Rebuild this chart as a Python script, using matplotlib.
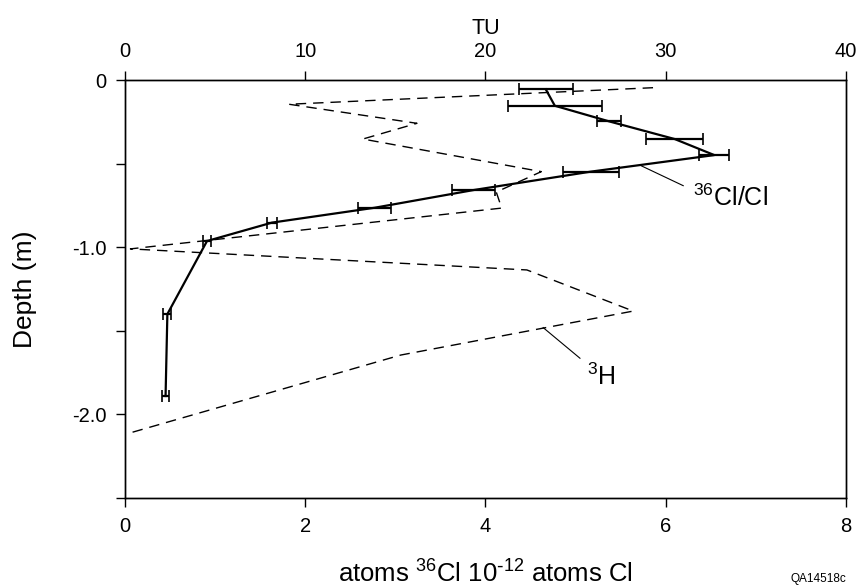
import numpy as np
import matplotlib
matplotlib.use('Agg')
import matplotlib.pyplot as plt

plt.rcParams['font.family'] = ['Liberation Sans', 'DejaVu Sans']
plt.rcParams['mathtext.default'] = 'regular'

# 36Cl/Cl 資料 (atoms 36Cl 10^-12 atoms Cl)
cl_depth = [-0.056, -0.154, -0.247, -0.353, -0.449, -0.548, -0.658, -0.764, -0.853, -0.963, -1.40, -1.89]
cl_ratio = [4.67, 4.77, 5.37, 6.10, 6.54, 5.17, 3.87, 2.77, 1.63, 0.91, 0.47, 0.45]
cl_err = [0.30, 0.52, 0.13, 0.32, 0.165, 0.31, 0.24, 0.18, 0.055, 0.04, 0.045, 0.04]

# 3H 資料 (TU)
h3_depth = [-0.046, -0.145, -0.259, -0.353, -0.548, -0.67, -0.766, -1.01, -1.136, -1.382, -1.645, -2.11]
h3_tu = [29.3, 9.1, 16.2, 13.2, 23.1, 20.6, 20.9, 0.3, 22.3, 28.2, 15.3, 0.3]

bottom_ticks = [0, 2, 4, 6, 8]
top_ticks = [0, 10, 20, 30, 40]
depth_ticks = [0, -0.5, -1.0, -1.5, -2.0, -2.5]
depth_labels = ['0', '', '-1.0', '', '-2.0', '']

fig = plt.figure(figsize=(8.64, 5.87), dpi=100)
ax = fig.add_axes([0.1447, 0.1516, 0.979 - 0.1447, 0.8637 - 0.1516])
ax2 = ax.twiny()

# 3H 虛線
ax2.plot(h3_tu, h3_depth, color='black', lw=1.0, ls=(0, (7.5, 5)))

# 36Cl/Cl 實線 + 誤差棒
ax.errorbar(cl_ratio, cl_depth, xerr=cl_err, color='black', lw=1.6,
            elinewidth=1.6, capsize=4, capthick=1.2, zorder=5)

ax.set_xlim(0, 8)
ax.set_ylim(-2.5, 0)
ax2.set_xlim(0, 40)

ax.set_xticks(bottom_ticks)
ax.set_xticklabels([str(t) for t in bottom_ticks])
ax.set_yticks(depth_ticks)
ax.set_yticklabels(depth_labels)
ax2.set_xticks(top_ticks)
ax2.set_xticklabels([str(t) for t in top_ticks])

for a in (ax, ax2):
    for s in a.spines.values():
        s.set_linewidth(1.0)
ax.tick_params(axis='both', direction='out', length=6.5, width=1.0, pad=7, labelsize=14.5,
               right=False, top=False)
ax2.tick_params(axis='x', direction='out', length=6.5, width=1.0, pad=7, labelsize=14.5)

ax.set_ylabel('Depth (m)', fontsize=19, labelpad=25)
ax.set_xlabel(r'atoms $^{36}$Cl 10$^{\text{-}12}$ atoms Cl', fontsize=18.5, labelpad=18)
ax2.set_xlabel('TU', fontsize=15.5, labelpad=6)

# 標註
ax.plot([5.733, 6.195], [-0.514, -0.632], color='black', lw=0.8)
ax.text(6.30, -0.752, '$^{36}$Cl/Cl', fontsize=18, va='baseline', ha='left')
ax.plot([4.641, 5.049], [-1.481, -1.664], color='black', lw=0.8)
ax.text(5.123, -1.824, '$^{3}$H', fontsize=18, va='baseline', ha='left')

fig.text(0.979, 0.004, 'QA14518c', fontsize=8.5, ha='right', va='bottom')

fig.savefig('out.png', dpi=100)
